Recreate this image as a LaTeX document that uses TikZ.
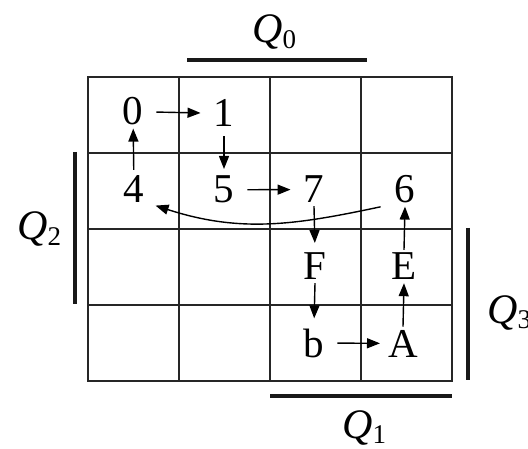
\documentclass[tikz,border=0pt]{standalone}
\usepackage{fontspec}
\setmainfont{Liberation Serif}
\usetikzlibrary{arrows.meta}
\newcommand{\Qlab}[1]{\textit{Q}\raisebox{-0.14em}{\fontsize{27}{27}\selectfont #1}}
\begin{document}
\begin{tikzpicture}[x=1pt,y=1pt,
  gridline/.style={line width=1.8pt,draw=black!85},
  bar/.style={line width=4pt,draw=black!90},
  val/.style={font=\fontsize{41}{41}\selectfont,anchor=base,inner xsep=13pt,inner ysep=3pt},
  qlab/.style={font=\fontsize{42}{42}\selectfont,anchor=base west,inner sep=0pt},
  arr/.style={line width=1.4pt,-{Triangle[length=13pt,width=10pt]}}]
\useasboundingbox (0,0) rectangle (528,448);
% grid
\draw[gridline] (88,67) rectangle (452,371);
\foreach \x in {179,270,361} \draw[gridline] (\x,67) -- (\x,371);
\foreach \y in {143,219,295} \draw[gridline] (88,\y) -- (452,\y);
% bars
\draw[bar] (187,388) -- (367,388);
\draw[bar] (75,296) -- (75,144);
\draw[bar] (468,220) -- (468,68);
\draw[bar] (270,52) -- (452,52);
% labels
\node[qlab] (q0) at (252,405) {\Qlab{0}};
\node[qlab] (q2) at (17,208) {\Qlab{2}};
\node[qlab] (q3) at (487,125) {\Qlab{3}};
\node[qlab] (q1) at (342,10) {\Qlab{1}};
% values
\node[val] (n0) at (133,323) {0};
\node[val] (n1) at (224,321) {1};
\node[val] (n4) at (134,245) {4};
\node[val] (n5) at (224,245) {5};
\node[val] (n7) at (314,245) {7};
\node[val] (n6) at (405,245) {6};
\node[val] (nF) at (315,168) {F};
\node[val] (nE) at (404,168) {E};
\node[val] (nb) at (314,91) {b};
\node[val] (nA) at (403,91) {A};
% arrows
\draw[arr] (n0) -- (n1);
\draw[arr,shorten <=6pt,shorten >=4pt] (n1) -- (n5);
\draw[arr] (n5) -- (n7);
\draw[arr,shorten <=3pt] (n4) -- (n0);
\draw[arr,shorten >=7pt] (n7.south) -- (nF.north);
\draw[arr,shorten >=7pt] (nF.south) -- (nb.north);
\draw[arr,shorten >=-5pt] (nb) -- (nA);
\draw[arr] (nA.north) -- (nE.south);
\draw[arr] (nE.north) -- (n6.south);
\draw[arr,shorten <=1pt,shorten >=-2pt] (n6.south west) to[out=192,in=-18] (n4.south east);
\end{tikzpicture}
\end{document}
